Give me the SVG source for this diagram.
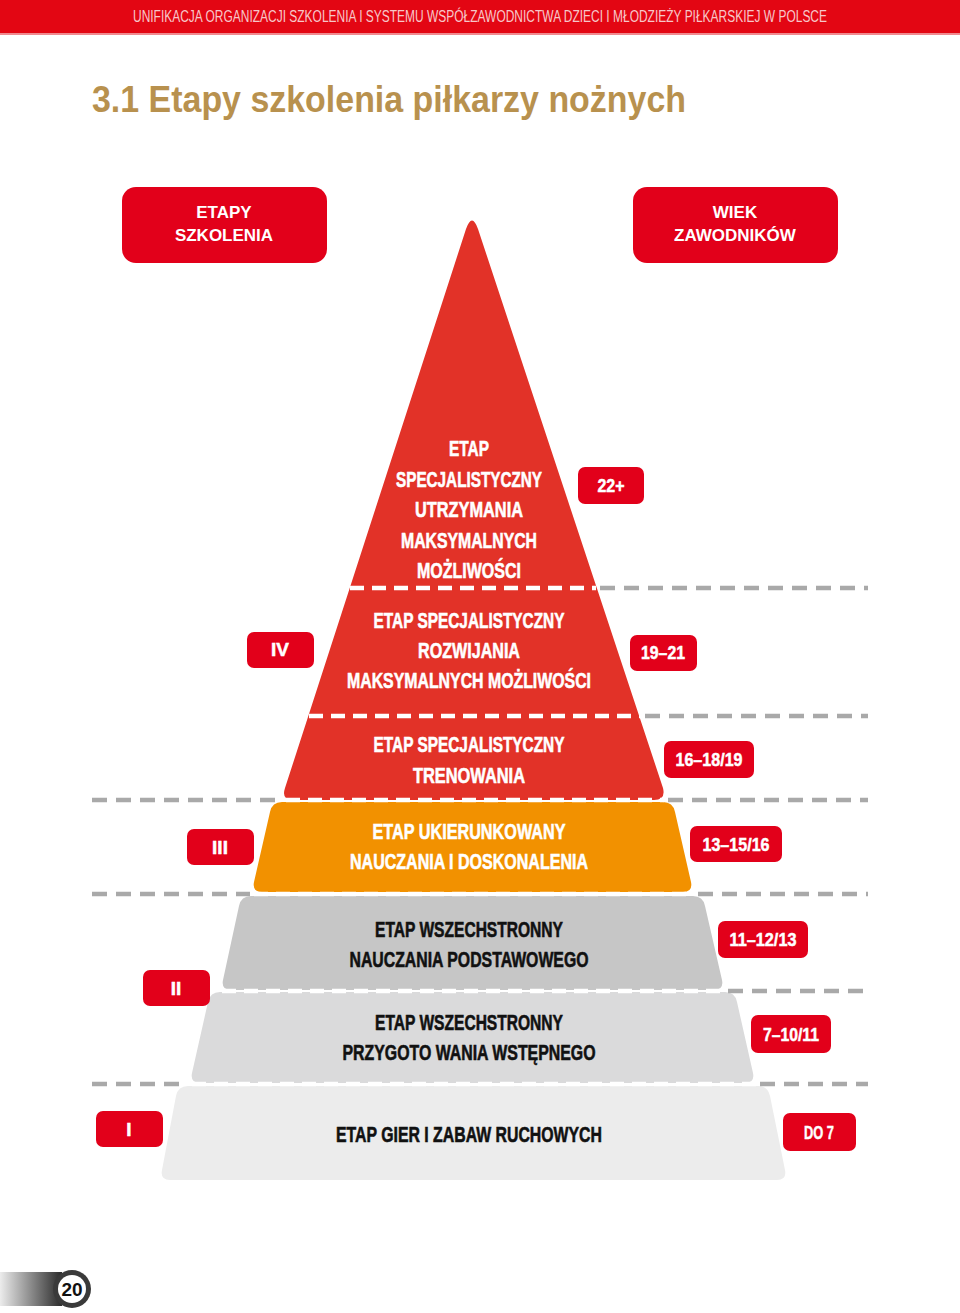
<svg xmlns="http://www.w3.org/2000/svg" width="960" height="1313" viewBox="0 0 960 1313">
<defs>
<style>
.hdr{font-family:"Liberation Sans Narrow","Liberation Sans",sans-serif;font-size:16px;fill:#f7c6c9}
.title{font-family:"Liberation Sans","Open Sans",sans-serif;font-weight:bold;font-size:36px;fill:#b8914e}
.top{font-family:"Liberation Sans","Open Sans",sans-serif;font-weight:bold;font-size:17px;fill:#fff;text-anchor:middle}
.st{font-family:"Liberation Sans Narrow","Liberation Sans",sans-serif;font-weight:bold;font-size:22px;text-anchor:middle;stroke-width:0.6}
.w{fill:#fff;stroke:#fff}
.k{fill:#111;stroke:#111}
.lbl{font-family:"Liberation Sans Narrow","Liberation Sans",sans-serif;font-weight:bold;font-size:19px;fill:#fff;stroke:#fff;stroke-width:0.5;text-anchor:middle}
.box{fill:#e2001a}
.gd{stroke:#a9a9a9;stroke-width:4.5;stroke-dasharray:15 9;fill:none}
.wd{stroke:#fff;stroke-width:4.5;stroke-dasharray:14 8;fill:none}
</style>
<linearGradient id="pg" x1="0" y1="0" x2="1" y2="0">
<stop offset="0" stop-color="#ececec"/>
<stop offset="1" stop-color="#2a2a2a"/>
</linearGradient>
</defs>
<rect width="960" height="1313" fill="#fff"/>
<g id="header">
<rect x="0" y="0" width="960" height="33" fill="#e30613"/>
<rect x="0" y="33" width="960" height="2" fill="#f08a90"/>
<text class="hdr" x="133" y="22" textLength="694" lengthAdjust="spacingAndGlyphs">UNIFIKACJA ORGANIZACJI SZKOLENIA I SYSTEMU WSPÓŁZAWODNICTWA DZIECI I MŁODZIEŻY PIŁKARSKIEJ W POLSCE</text>
</g>
<text id="title" class="title" x="92" y="112" textLength="594" lengthAdjust="spacingAndGlyphs">3.1 Etapy szkolenia piłkarzy nożnych</text>
<g id="head-etapy">
<rect x="122" y="187" width="205" height="76" rx="14" class="box"/>
<text class="top" x="224" y="218">ETAPY</text>
<text class="top" x="224" y="241">SZKOLENIA</text>
</g>
<g id="head-wiek">
<rect x="633" y="187" width="205" height="76" rx="14" class="box"/>
<text class="top" x="735" y="218">WIEK</text>
<text class="top" x="735" y="241">ZAWODNIKÓW</text>
</g>
<g id="stage-red">
<path d="M466,229 Q472,212 478,229 L663,788 Q666,800 654,800 L293,800 Q281,800 285,788 Z" fill="#e23228"/>
<text class="st w" x="469" y="456" textLength="40" lengthAdjust="spacingAndGlyphs">ETAP</text>
<text class="st w" x="469" y="487" textLength="146" lengthAdjust="spacingAndGlyphs">SPECJALISTYCZNY</text>
<text class="st w" x="469" y="517" textLength="108" lengthAdjust="spacingAndGlyphs">UTRZYMANIA</text>
<text class="st w" x="469" y="548" textLength="136" lengthAdjust="spacingAndGlyphs">MAKSYMALNYCH</text>
<text class="st w" x="469" y="578" textLength="104" lengthAdjust="spacingAndGlyphs">MOŻLIWOŚCI</text>
<text class="st w" x="469" y="628" textLength="191" lengthAdjust="spacingAndGlyphs">ETAP SPECJALISTYCZNY</text>
<text class="st w" x="469" y="658" textLength="102" lengthAdjust="spacingAndGlyphs">ROZWIJANIA</text>
<text class="st w" x="469" y="688" textLength="244" lengthAdjust="spacingAndGlyphs">MAKSYMALNYCH MOŻLIWOŚCI</text>
<text class="st w" x="469" y="752" textLength="191" lengthAdjust="spacingAndGlyphs">ETAP SPECJALISTYCZNY</text>
<text class="st w" x="469" y="783" textLength="112" lengthAdjust="spacingAndGlyphs">TRENOWANIA</text>
</g>
<g id="stage-orange">
<path d="M282,802 L663,802 Q673,802 675,812 L691,882 Q693,892 683,892 L262,892 Q252,892 254,882 L270,812 Q272,802 282,802 Z" fill="#f29100"/>
<text class="st w" x="469" y="839" textLength="193" lengthAdjust="spacingAndGlyphs">ETAP UKIERUNKOWANY</text>
<text class="st w" x="469" y="869" textLength="238" lengthAdjust="spacingAndGlyphs">NAUCZANIA I DOSKONALENIA</text>
</g>
<g id="stage-gray1">
<path d="M251,896 L693,896 Q703,896 705,906 L722,980 Q724,990 714,990 L231,990 Q221,990 223,980 L239,906 Q241,896 251,896 Z" fill="#c6c6c6"/>
<text class="st k" x="469" y="937" textLength="188" lengthAdjust="spacingAndGlyphs">ETAP WSZECHSTRONNY</text>
<text class="st k" x="469" y="967" textLength="239" lengthAdjust="spacingAndGlyphs">NAUCZANIA PODSTAWOWEGO</text>
</g>
<g id="stage-gray2">
<path d="M220,992 L725,992 Q735,992 737,1002 L753,1073 Q755,1083 745,1083 L200,1083 Q190,1083 192,1073 L208,1002 Q210,992 220,992 Z" fill="#dadadb"/>
<text class="st k" x="469" y="1030" textLength="188" lengthAdjust="spacingAndGlyphs">ETAP WSZECHSTRONNY</text>
<text class="st k" x="469" y="1060" textLength="253" lengthAdjust="spacingAndGlyphs">PRZYGOTO WANIA WSTĘPNEGO</text>
</g>
<g id="stage-gray3">
<path d="M188,1086 L758,1086 Q768,1086 770,1096 L785,1170 Q787,1180 777,1180 L170,1180 Q160,1180 162,1170 L176,1096 Q178,1086 188,1086 Z" fill="#ececec"/>
<text class="st k" x="469" y="1142" textLength="266" lengthAdjust="spacingAndGlyphs">ETAP GIER I ZABAW RUCHOWYCH</text>
</g>
<g id="connectors">
<line class="wd" x1="350" y1="588" x2="596" y2="588"/>
<line class="gd" x1="600" y1="588" x2="868" y2="588"/>
<line class="wd" x1="309" y1="716" x2="640" y2="716"/>
<line class="gd" x1="645" y1="716" x2="868" y2="716"/>
<line class="gd" x1="92" y1="800" x2="282" y2="800"/>
<line class="wd" x1="286" y1="800" x2="664" y2="800"/>
<line class="gd" x1="668" y1="800" x2="868" y2="800"/>
<line class="gd" x1="92" y1="894" x2="250" y2="894"/>
<line class="wd" x1="254" y1="894" x2="694" y2="894"/>
<line class="gd" x1="698" y1="894" x2="868" y2="894"/>
<line class="wd" x1="222" y1="991" x2="724" y2="991"/>
<line class="gd" x1="728" y1="991" x2="868" y2="991"/>
<line class="gd" x1="92" y1="1084" x2="188" y2="1084"/>
<line class="wd" x1="192" y1="1084" x2="756" y2="1084"/>
<line class="gd" x1="760" y1="1084" x2="868" y2="1084"/>
</g>
<g id="age-22">
<rect x="578" y="467" width="66" height="37" rx="7" class="box"/>
<text class="lbl" x="611" y="492" textLength="27" lengthAdjust="spacingAndGlyphs">22+</text>
</g>
<g id="lvl-IV">
<rect x="247" y="632" width="67" height="36" rx="7" class="box"/>
<text class="lbl" x="280" y="656">IV</text>
</g>
<g id="age-19-21">
<rect x="630" y="635" width="67" height="36" rx="7" class="box"/>
<text class="lbl" x="663" y="659" textLength="44" lengthAdjust="spacingAndGlyphs">19–21</text>
</g>
<g id="age-16-18">
<rect x="664" y="741" width="90" height="37" rx="7" class="box"/>
<text class="lbl" x="709" y="766" textLength="67" lengthAdjust="spacingAndGlyphs">16–18/19</text>
</g>
<g id="lvl-III">
<rect x="187" y="829" width="67" height="36" rx="7" class="box"/>
<text class="lbl" x="220" y="854">III</text>
</g>
<g id="age-13-15">
<rect x="690" y="826" width="92" height="36" rx="7" class="box"/>
<text class="lbl" x="736" y="851" textLength="67" lengthAdjust="spacingAndGlyphs">13–15/16</text>
</g>
<g id="age-11-12">
<rect x="718" y="921" width="90" height="37" rx="7" class="box"/>
<text class="lbl" x="763" y="946" textLength="67" lengthAdjust="spacingAndGlyphs">11–12/13</text>
</g>
<g id="lvl-II">
<rect x="143" y="970" width="67" height="36" rx="7" class="box"/>
<text class="lbl" x="176" y="995">II</text>
</g>
<g id="age-7-10">
<rect x="751" y="1015" width="80" height="38" rx="7" class="box"/>
<text class="lbl" x="791" y="1041" textLength="56" lengthAdjust="spacingAndGlyphs">7–10/11</text>
</g>
<g id="lvl-I">
<rect x="96" y="1111" width="67" height="36" rx="7" class="box"/>
<text class="lbl" x="129" y="1136">I</text>
</g>
<g id="age-do7">
<rect x="783" y="1113" width="73" height="38" rx="7" class="box"/>
<text class="lbl" x="819" y="1139" textLength="30" lengthAdjust="spacingAndGlyphs">DO 7</text>
</g>
<g id="page-number">
<rect x="0" y="1272" width="62" height="34" fill="url(#pg)"/>
<circle cx="72" cy="1289" r="19" fill="#3a3a3a"/>
<circle cx="72" cy="1289" r="14" fill="#fff"/>
<text x="72" y="1296" text-anchor="middle" font-family="Liberation Sans Narrow,Liberation Sans,sans-serif" font-weight="bold" font-size="19" fill="#111">20</text>
</g>
</svg>
